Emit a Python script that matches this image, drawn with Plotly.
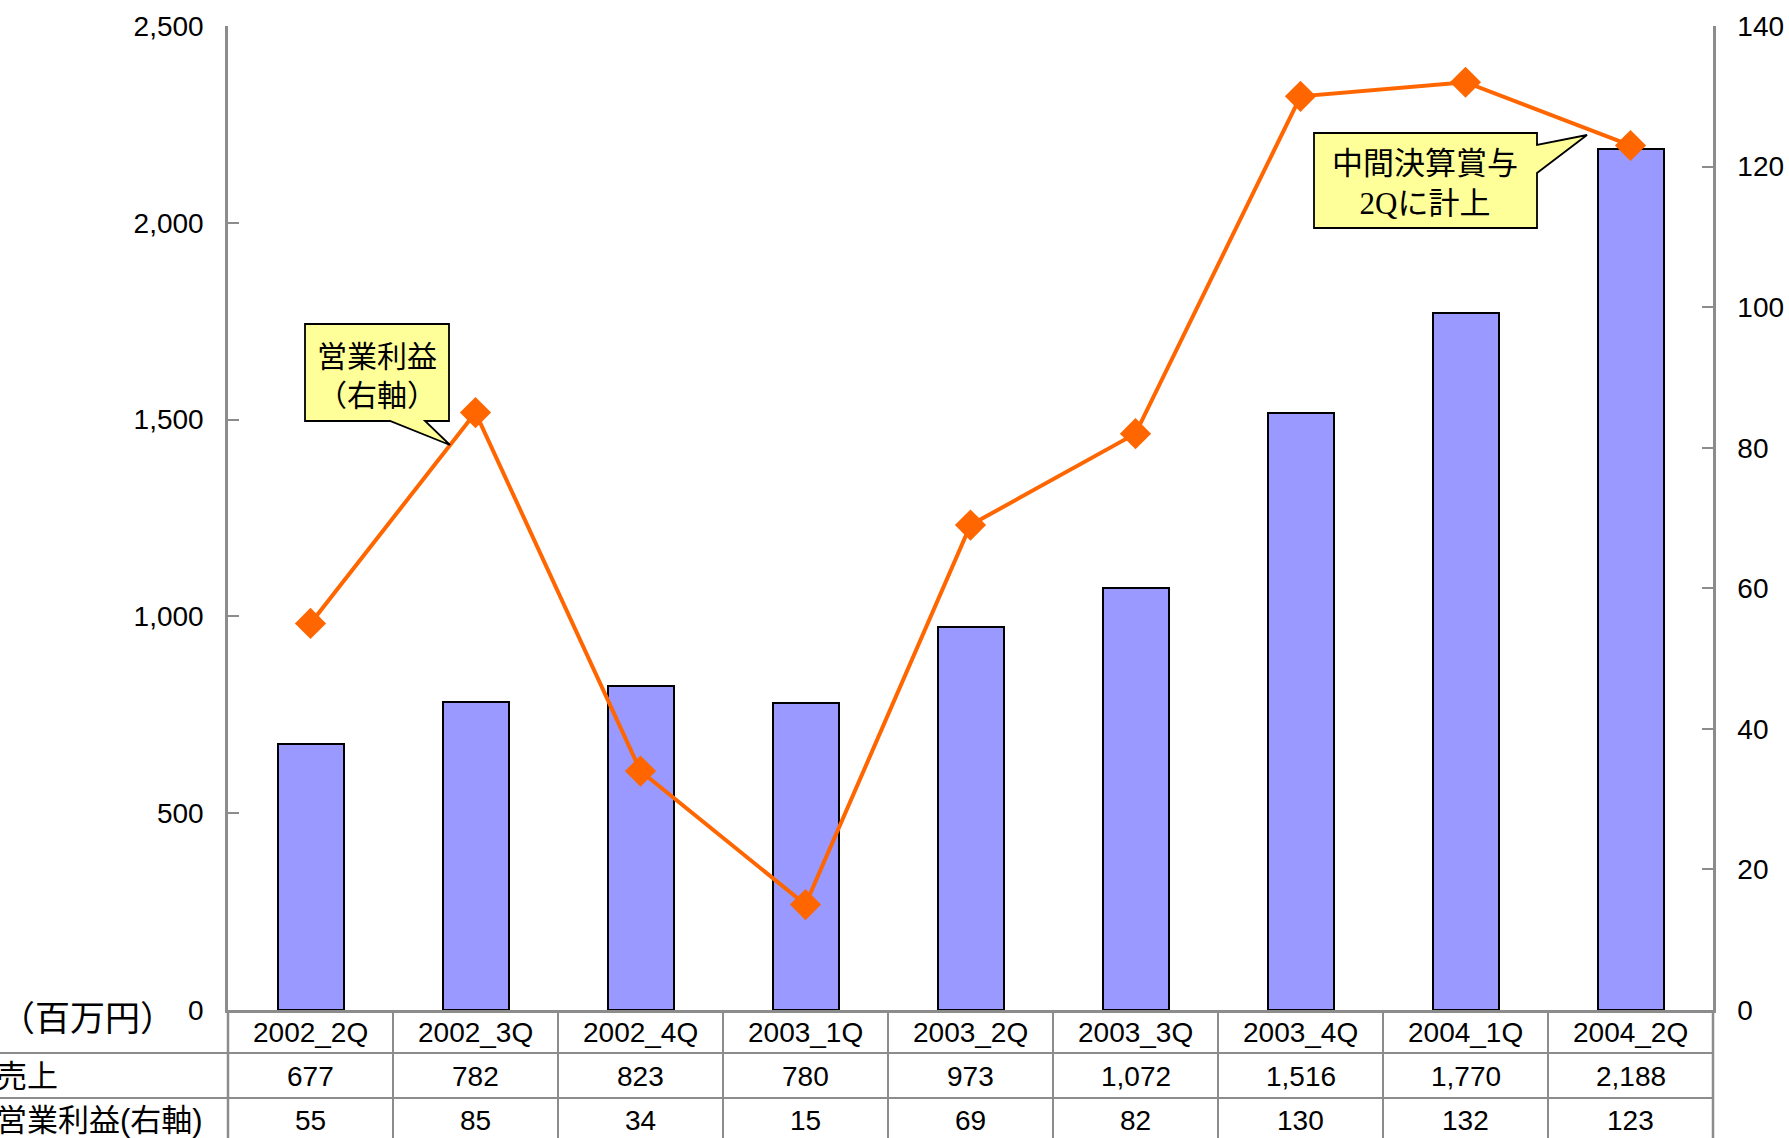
import plotly.graph_objects as go

# ---- data ----
quarters = ["2002_2Q", "2002_3Q", "2002_4Q", "2003_1Q", "2003_2Q",
            "2003_3Q", "2003_4Q", "2004_1Q", "2004_2Q"]
sales = [677, 782, 823, 780, 973, 1072, 1516, 1770, 2188]
op_profit = [55, 85, 34, 15, 69, 82, 130, 132, 123]
row_labels = ["売上", "営業利益(右軸)"]
unit_label = "（百万円）"
callout1_text = "営業利益<br>（右軸）"
callout2_text = "中間決算賞与<br><span style=\"font-family:'Liberation Serif', serif\">2Q</span>に計上"

# ---- geometry (pixels) ----
W, H = 1789, 1138
L, R, T, B = 228, 1713, 26, 1010
PW, PH = R - L, B - T


def px(x):
    return (x - L) / PW


def py(y):
    return (B - y) / PH


LATIN = "Liberation Sans, Arial, Noto Sans CJK JP, sans-serif"
CJK = "Noto Sans CJK JP, sans-serif"
GRAY = "#8C8C8C"

fig = go.Figure()
fig.add_trace(go.Bar(
    x=quarters, y=sales, width=0.4,
    marker=dict(color="#9999FF", line=dict(color="black", width=2)),
    yaxis="y", name="売上",
))
fig.add_trace(go.Scatter(
    x=quarters, y=op_profit, mode="lines+markers",
    line=dict(color="#FF6600", width=4),
    marker=dict(symbol="diamond", size=24, color="#FF6600"),
    yaxis="y2", name="営業利益", cliponaxis=False,
))

axis_common = dict(
    showgrid=False, zeroline=False, showline=True, linecolor=GRAY, linewidth=2.5,
    ticks="inside", ticklen=11, tickwidth=2, tickcolor=GRAY,
    tickfont=dict(family=LATIN, size=28, color="black"),
    ticklabelstandoff=16, automargin=False,
)

fig.update_layout(
    width=W, height=H,
    margin=dict(l=L, r=W - R, t=T, b=H - B, pad=0, autoexpand=False),
    paper_bgcolor="white", plot_bgcolor="white",
    showlegend=False,
    bargap=0,
    xaxis=dict(range=[-0.5, len(quarters) - 0.5], showticklabels=False,
               showgrid=False, zeroline=False, showline=True, automargin=False,
               linecolor=GRAY, linewidth=2.5, ticks=""),
    yaxis=dict(range=[0, 2500], dtick=500, tickformat=",d", **axis_common),
    yaxis2=dict(range=[0, 140], dtick=20, overlaying="y", side="right",
                **axis_common),
)

shapes = []
annotations = []

# ---- data table ----
row_y = [B, 1053, 1098, H + 10]
for yy in row_y[1:3]:
    shapes.append(dict(type="line", xref="paper", yref="paper",
                       x0=px(-5), x1=px(R), y0=py(yy), y1=py(yy),
                       line=dict(color=GRAY, width=2)))
for i in range(len(quarters) + 1):
    xx = L + PW * i / len(quarters)
    shapes.append(dict(type="line", xref="paper", yref="paper",
                       x0=px(xx), x1=px(xx), y0=py(B), y1=py(H + 10),
                       line=dict(color=GRAY, width=2.5 if i in (0, len(quarters)) else 2)))

row_centers = [1032, 1076, 1120]
cell_font = dict(family=LATIN, size=28, color="black")
for i, q in enumerate(quarters):
    for text, yc in ((q, row_centers[0]), (f"{sales[i]:,}", row_centers[1]),
                     (f"{op_profit[i]:,}", row_centers[2])):
        annotations.append(dict(x=q, y=py(yc), xref="x", yref="paper",
                                text=text, showarrow=False,
                                xanchor="center", yanchor="middle", font=cell_font))

for lbl, yc in zip(row_labels, row_centers[1:]):
    annotations.append(dict(x=px(-6), y=py(yc), xref="paper", yref="paper",
                            text=lbl, showarrow=False, xanchor="left", yanchor="middle",
                            font=dict(family=LATIN, size=31, color="black")))

annotations.append(dict(x=px(-2), y=py(1015), xref="paper", yref="paper",
                        text=unit_label, showarrow=False, xanchor="left", yanchor="middle",
                        font=dict(family=CJK, size=35, color="black")))


# ---- callouts ----
def bubble(pts):
    d = "M " + " L ".join(f"{px(x)},{py(y)}" for x, y in pts) + " Z"
    return dict(type="path", xref="paper", yref="paper", path=d,
                fillcolor="#FFFF99", line=dict(color="black", width=1.8), layer="above")


shapes.append(bubble([(305, 324), (449, 324), (449, 421), (425, 421), (450, 445),
                      (390, 421), (305, 421)]))
annotations.append(dict(x=px(377), y=py(373), xref="paper", yref="paper",
                        text=callout1_text, showarrow=False,
                        xanchor="center", yanchor="middle",
                        font=dict(family=CJK, size=30, color="black")))

shapes.append(bubble([(1314, 133), (1537, 133), (1537, 145), (1587, 135),
                      (1537, 173), (1537, 228), (1314, 228)]))
annotations.append(dict(x=px(1425), y=py(181), xref="paper", yref="paper",
                        text=callout2_text, showarrow=False,
                        xanchor="center", yanchor="middle",
                        font=dict(family=CJK, size=31, color="black")))

fig.update_layout(shapes=shapes, annotations=annotations)
fig.write_html("out.html", config={"displayModeBar": False},
               post_script="document.body.style.margin='0';")
